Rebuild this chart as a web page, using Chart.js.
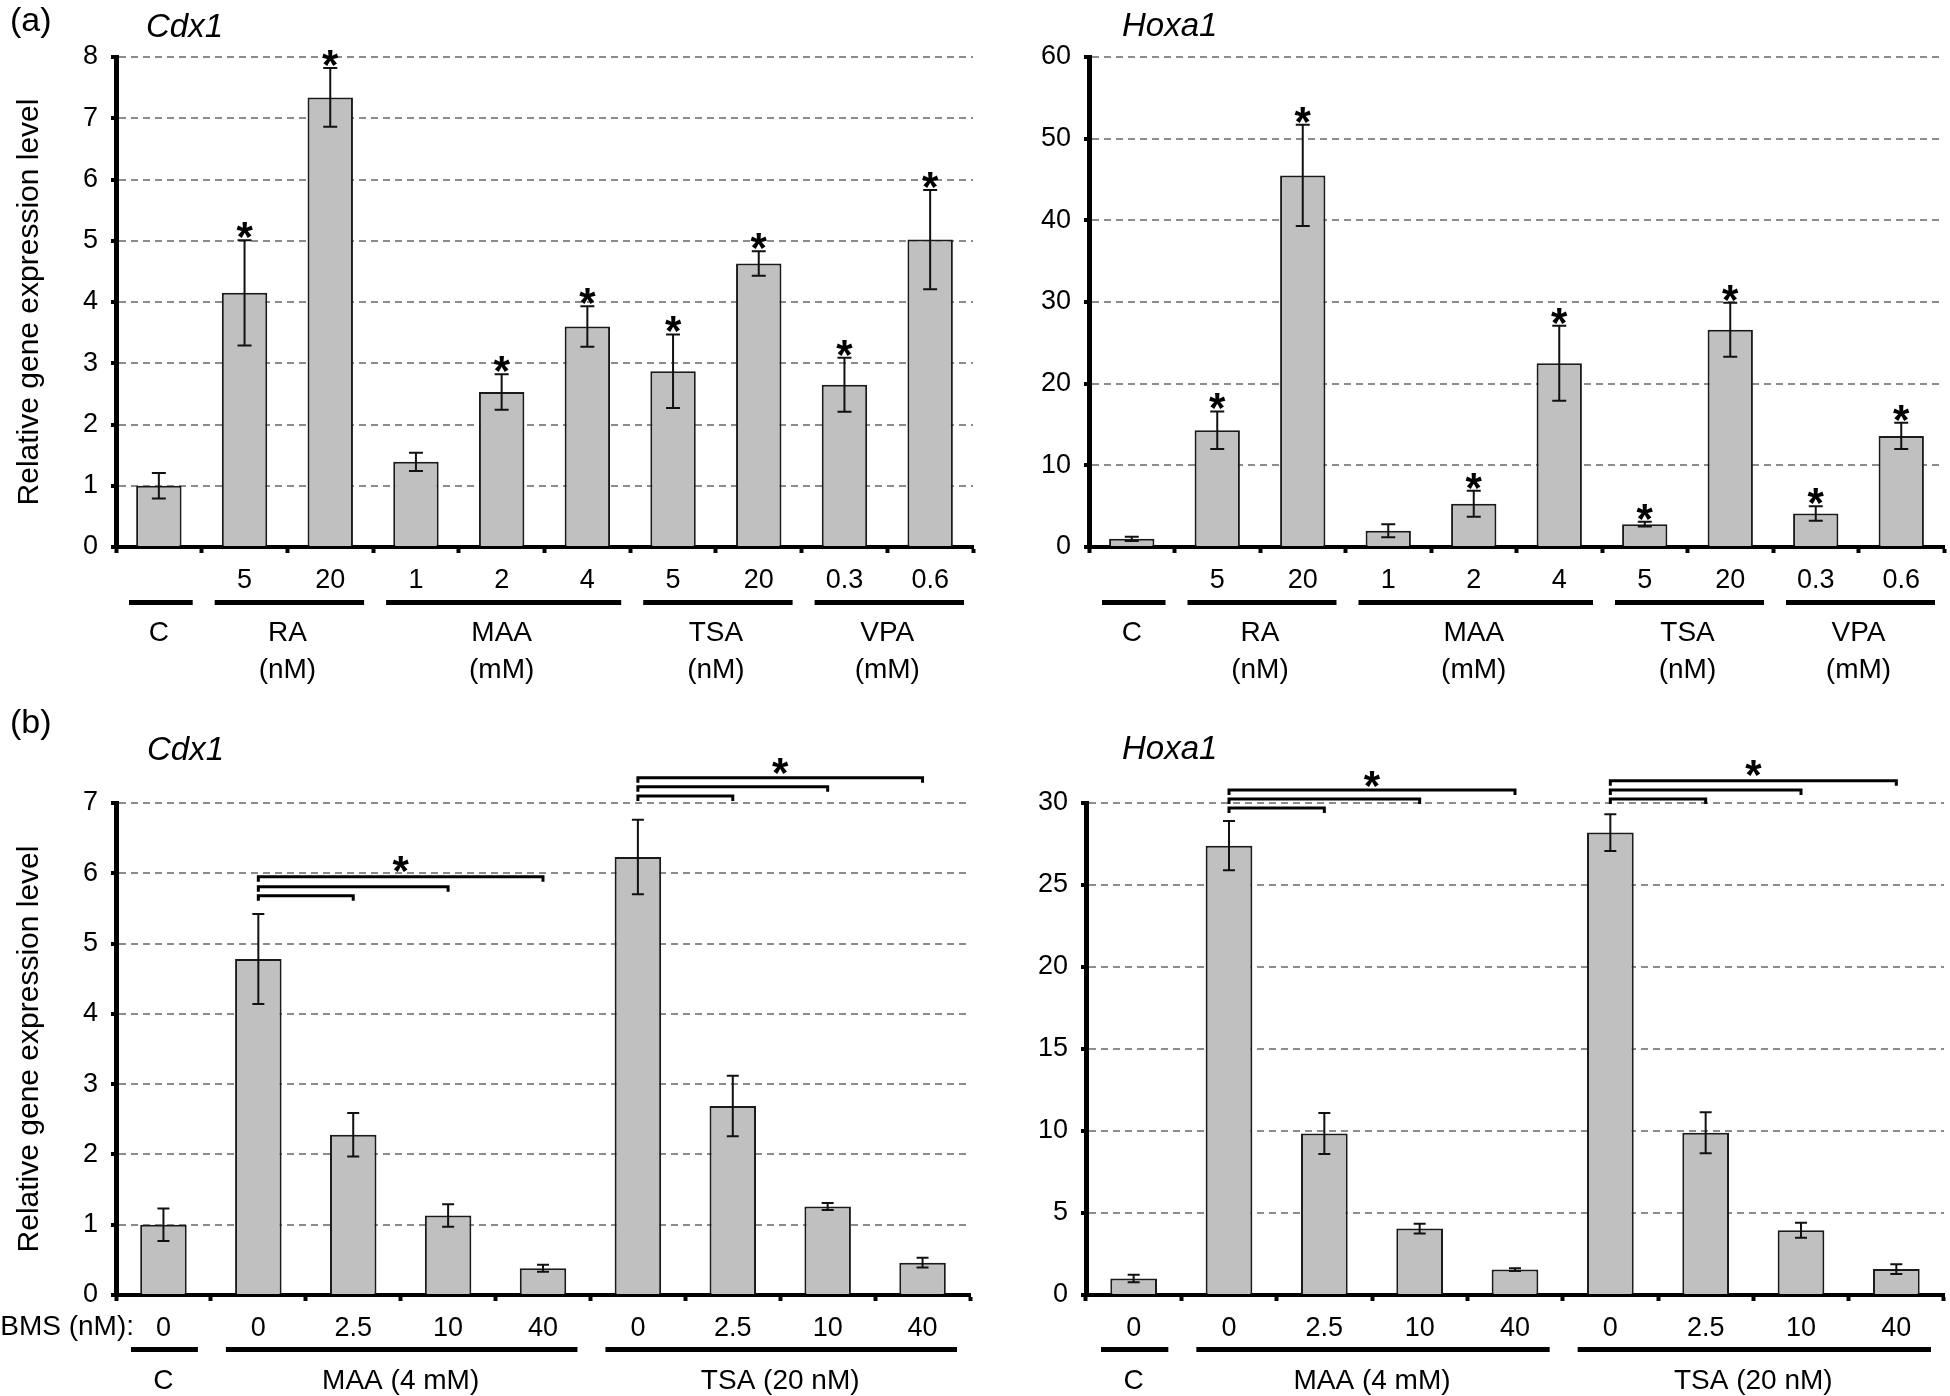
<!DOCTYPE html>
<html>
<head>
<meta charset="utf-8">
<script src="https://cdn.jsdelivr.net/npm/chart.js@4"></script>
<style>
	body { margin: 0; background: #fff; }
	#wrap { position: relative; width: 1950px; height: 1396px; }
	canvas { position: absolute; }
</style>
</head>
<body>
<div id="wrap">
	<canvas id="aCdx" width="980" height="700" style="left:0px;top:0px"></canvas>
	<canvas id="aHox" width="970" height="700" style="left:980px;top:0px"></canvas>
	<canvas id="bCdx" width="980" height="696" style="left:0px;top:700px"></canvas>
	<canvas id="bHox" width="970" height="696" style="left:980px;top:700px"></canvas>
</div>
<script>
// (a) 데이터
const aTicks = ['', '5', '20', '1', '2', '4', '5', '20', '0.3', '0.6'];
const aGroups = ['C', 'RA', 'MAA', 'TSA', 'VPA'];
const aUnits = ['', '(nM)', '(mM)', '(nM)', '(mM)'];
const aSpans = [[0, 0], [1, 2], [3, 5], [6, 7], [8, 9]];
const aStars = [1, 2, 4, 5, 6, 7, 8, 9];

const aCdxVal = [1.0, 4.15, 7.34, 1.39, 2.53, 3.6, 2.87, 4.63, 2.65, 5.02];
const aCdxErr = [0.21, 0.86, 0.48, 0.15, 0.29, 0.33, 0.6, 0.2, 0.44, 0.81];
const aHoxVal = [1.0, 14.3, 45.5, 2.0, 5.3, 22.5, 2.8, 26.6, 4.1, 13.6];
const aHoxErr = [0.25, 2.3, 6.2, 0.8, 1.6, 4.6, 0.3, 3.3, 0.9, 1.6];

// (b) 데이터
const bTicks = ['0', '0', '2.5', '10', '40', '0', '2.5', '10', '40'];
const bGroups = ['C', 'MAA (4 mM)', 'TSA (20 nM)'];
const bSpans = [[0, 0], [1, 4], [5, 8]];

const bCdxVal = [1.0, 4.78, 2.28, 1.13, 0.38, 6.23, 2.69, 1.26, 0.46];
const bCdxErr = [0.23, 0.64, 0.31, 0.16, 0.05, 0.53, 0.43, 0.05, 0.07];
const bHoxVal = [1.0, 27.4, 9.85, 4.05, 1.55, 28.2, 9.9, 3.95, 1.58];
const bHoxErr = [0.23, 1.5, 1.25, 0.3, 0.08, 1.12, 1.25, 0.46, 0.3];

// 비교 괄호 : 기준 막대, 비교 막대, 높이(값), 별 높이(값)
const bCdxBrackets = [
	{ from: 1, to: [2, 3, 4], levels: [5.68, 5.81, 5.95], star: 6.18 },
	{ from: 5, to: [6, 7, 8], levels: [7.10, 7.23, 7.36], star: 7.57 }
];
const bHoxBrackets = [
	{ from: 1, to: [2, 3, 4], levels: [29.7, 30.25, 30.8], star: 31.65 },
	{ from: 5, to: [6, 7, 8], levels: [30.25, 30.8, 31.35], star: 32.3 }
];

const FONT = '"Liberation Sans", Arial, sans-serif';

// 별표 그리기 (가운데 좌표 기준)
function drawStar(ctx, x, yc) {
	ctx.font = 'bold 42px ' + FONT;
	ctx.textAlign = 'center';
	ctx.textBaseline = 'alphabetic';
	ctx.fillStyle = '#000';
	ctx.fillText('*', x, yc + 24);
}

function decoPlugin(cfg) {
	return {
		id: 'deco',
		afterDatasetsDraw(chart) {
			const ctx = chart.ctx;
			const xs = chart.scales.x;
			const ys = chart.scales.y;
			ctx.save();

			// 1) 오차 막대
			ctx.strokeStyle = '#111';
			ctx.lineWidth = 2;
			for (let i = 0; i < cfg.val.length; i++) {
				const px = xs.getPixelForValue(i);
				const top = ys.getPixelForValue(cfg.val[i] + cfg.err[i]);
				const bot = ys.getPixelForValue(cfg.val[i] - cfg.err[i]);
				ctx.beginPath();
				ctx.moveTo(px, top); ctx.lineTo(px, bot);
				ctx.moveTo(px - cfg.cap, top); ctx.lineTo(px + cfg.cap, top);
				ctx.moveTo(px - cfg.cap, bot); ctx.lineTo(px + cfg.cap, bot);
				ctx.stroke();
			}

			// 2) 별표 (a)
			if (cfg.stars) {
				cfg.stars.forEach(i => {
					const px = xs.getPixelForValue(i);
					const top = ys.getPixelForValue(cfg.val[i] + cfg.err[i]);
					drawStar(ctx, px, top - 13);
				});
			}

			// 3) 비교 괄호 (b)
			if (cfg.brackets) {
				ctx.strokeStyle = '#000';
				ctx.lineWidth = 3;
				cfg.brackets.forEach(b => {
					const x1 = xs.getPixelForValue(b.from);
					b.to.forEach((t, k) => {
						const x2 = xs.getPixelForValue(t);
						const yy = ys.getPixelForValue(b.levels[k]);
						ctx.beginPath();
						ctx.moveTo(x1, yy + 5); ctx.lineTo(x1, yy);
						ctx.lineTo(x2, yy); ctx.lineTo(x2, yy + 5);
						ctx.stroke();
					});
					const xm = (x1 + xs.getPixelForValue(b.to[b.to.length - 1])) / 2;
					drawStar(ctx, xm, ys.getPixelForValue(b.star));
				});
			}
			ctx.restore();
		},
		afterDraw(chart) {
			const ctx = chart.ctx;
			const xs = chart.scales.x;
			ctx.save();
			const half = (xs.getPixelForValue(1) - xs.getPixelForValue(0)) / 2;

			// 그룹 막대선 + 그룹 이름
			ctx.fillStyle = '#000';
			ctx.textAlign = 'center';
			ctx.textBaseline = 'middle';
			ctx.font = '28px ' + FONT;
			cfg.spans.forEach((s, g) => {
				const x1 = xs.getPixelForValue(s[0]) - half + cfg.inL;
				const x2 = xs.getPixelForValue(s[1]) + half - cfg.inR;
				ctx.fillRect(x1, cfg.lineY - 2, x2 - x1, 5);
				const xm = (xs.getPixelForValue(s[0]) + xs.getPixelForValue(s[1])) / 2;
				ctx.fillText(cfg.groups[g], xm, cfg.nameY);
				if (cfg.units && cfg.units[g]) ctx.fillText(cfg.units[g], xm, cfg.unitY);
			});

			if (cfg.bms) {
				ctx.textAlign = 'right';
				ctx.fillText('BMS (nM):', cfg.bms.x, cfg.bms.y);
			}

			// 패널 라벨, 유전자 이름
			if (cfg.panel) {
				ctx.textAlign = 'left';
				ctx.textBaseline = 'alphabetic';
				ctx.font = '34px ' + FONT;
				ctx.fillText(cfg.panel, 10, cfg.panelY);
			}
			ctx.textAlign = 'left';
			ctx.textBaseline = 'alphabetic';
			ctx.font = 'italic 33px ' + FONT;
			ctx.fillText(cfg.gene, cfg.geneX, cfg.geneY);
			ctx.restore();
		}
	};
}

function makeChart(id, labels, val, yMax, yStep, o, deco) {
	const ctx = document.getElementById(id);
	new Chart(ctx, {
		type: 'bar',
		data: {
			labels: labels,
			datasets: [{
				data: val,
				backgroundColor: '#c0c0c0',
				borderColor: '#1a1a1a',
				borderWidth: 2,
				barPercentage: o.barPct,
				categoryPercentage: 1
			}]
		},
		options: {
			responsive: false,
			animation: false,
			devicePixelRatio: 1,
			layout: { padding: o.pad },
			plugins: { legend: { display: false }, tooltip: { enabled: false } },
			scales: {
				x: {
					offset: true,
					grid: { display: true, offset: true, drawOnChartArea: false, drawTicks: true,
						tickLength: 6, tickWidth: 4, tickColor: '#000', color: '#000' },
					border: { display: true, color: '#000', width: 4 },
					ticks: { color: '#000', font: { family: FONT, size: 27 }, padding: 11,
						maxRotation: 0, autoSkip: false },
					afterFit: s => { s.height = o.xH; }
				},
				y: {
					min: 0, max: yMax,
					grid: {
						color: c => (c.tick && c.tick.value === 0) ? 'rgba(0,0,0,0)' : '#8c8c8c',
						lineWidth: 2, drawTicks: true, tickLength: 5, tickWidth: 4,
						tickColor: '#000', tickBorderDash: []
					},
					border: { display: true, color: '#000', width: 5, dash: [7, 5] },
					ticks: { stepSize: yStep, color: '#000', font: { family: FONT, size: 27 }, padding: 13 },
					title: {
						display: !!o.yTitle, text: o.yTitle || '', color: '#000',
						font: { family: FONT, size: 30 }, padding: { top: 12, bottom: 0 }
					},
					afterFit: s => { s.width = o.yW; }
				}
			}
		},
		plugins: [deco]
	});
}

const yTitle = 'Relative gene expression level';

// (a) Cdx1
makeChart('aCdx', aTicks, aCdxVal, 8, 1,
	{ barPct: 0.53, pad: { top: 57, right: 7, left: 0, bottom: 0 }, xH: 153, yW: 116, yTitle: yTitle },
	decoPlugin({ val: aCdxVal, err: aCdxErr, cap: 7, stars: aStars, spans: aSpans, groups: aGroups, units: aUnits,
		inL: 13, inR: 9, lineY: 602, nameY: 633, unitY: 670,
		panel: '(a)', panelY: 31, gene: 'Cdx1', geneX: 146, geneY: 37 }));

// (a) Hoxa1
makeChart('aHox', aTicks, aHoxVal, 60, 10,
	{ barPct: 0.53, pad: { top: 57, right: 6, left: 0, bottom: 0 }, xH: 153, yW: 109 },
	decoPlugin({ val: aHoxVal, err: aHoxErr, cap: 7, stars: aStars, spans: aSpans, groups: aGroups, units: aUnits,
		inL: 13, inR: 9, lineY: 602, nameY: 633, unitY: 670,
		gene: 'Hoxa1', geneX: 142, geneY: 36 }));

// (b) Cdx1
makeChart('bCdx', bTicks, bCdxVal, 7, 1,
	{ barPct: 0.49, pad: { top: 103, right: 10, left: 0, bottom: 0 }, xH: 101, yW: 116, yTitle: yTitle },
	decoPlugin({ val: bCdxVal, err: bCdxErr, cap: 6, brackets: bCdxBrackets, spans: bSpans, groups: bGroups,
		inL: 15, inR: 13, lineY: 649, nameY: 681, bms: { x: 134, y: 627 },
		panel: '(b)', panelY: 33, gene: 'Cdx1', geneX: 147, geneY: 60 }));

// (b) Hoxa1
makeChart('bHox', bTicks, bHoxVal, 30, 5,
	{ barPct: 0.49, pad: { top: 103, right: 6, left: 0, bottom: 0 }, xH: 101, yW: 106 },
	decoPlugin({ val: bHoxVal, err: bHoxErr, cap: 6, brackets: bHoxBrackets, spans: bSpans, groups: bGroups,
		inL: 15, inR: 13, lineY: 649, nameY: 681,
		gene: 'Hoxa1', geneX: 142, geneY: 59 }));
</script>
</body>
</html>
